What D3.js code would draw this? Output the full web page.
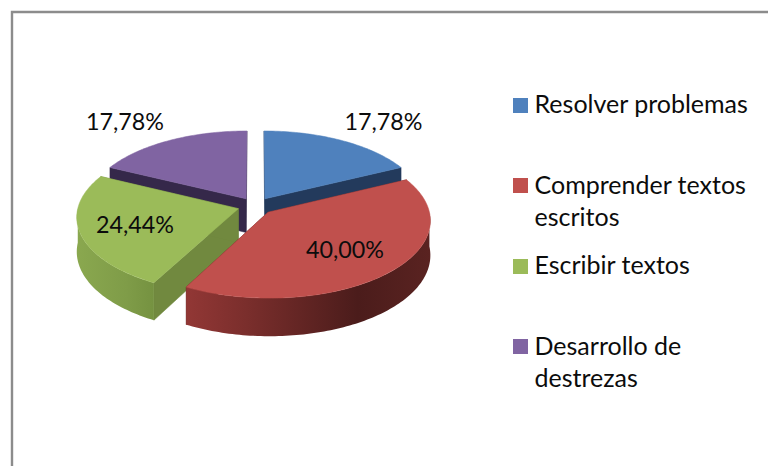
<!DOCTYPE html>
<html><head><meta charset="utf-8">
<script src="https://cdn.jsdelivr.net/npm/d3@7"></script>
<style>html,body{margin:0;padding:0;background:#fff;overflow:hidden}svg{display:block}text{font-family:Lato,"Open Sans",sans-serif;fill:#0c0c0c}</style>
</head><body><svg id="c" width="768" height="466"></svg>
<script>
const categories = ["Resolver problemas", "Comprender textos escritos", "Escribir textos", "Desarrollo de destrezas"];
const legendLines = [["Resolver problemas"], ["Comprender textos", "escritos"], ["Escribir textos"], ["Desarrollo de", "destrezas"]];
const values = [17.78, 40.00, 24.44, 17.78];
const topColors = ["#4F81BD", "#C0504D", "#9BBB59", "#8064A2"];
const wallColors = ["#233A5C", "#5c2322", "#71893F", "#35284A"];

// layout
const W = 768, H = 466;
const cx = 255.5, cy = 206, R = 160, explode = 18, K = 76, C = 0.1, depth = 34;
const labelCentres = [[383.5, 130], [345, 258], [135, 233], [125, 130]];
const legendSwatchY = [98, 178, 259, 339];
const legendBase = [113, 194, 274, 355];
const legendLineH = 32;
const drawOrder = [3, 0, 2, 1];

const svg = d3.select("#c");
svg.append("rect").attr("width", W).attr("height", H).attr("fill", "#fff");
svg.append("path").attr("d", `M12,${H}V12H${W}`).attr("fill", "none").attr("stroke", "#8c8c8c").attr("stroke-width", 2.4);

const arcs = d3.pie().sort(null)(values);
const line = d3.line();

// Perspective projection of the tilted pie plane
function project(X, Y, drop) {
  const f = 1 / (1 + C * Y);
  return [cx + X * R * f, cy - Y * K * f + drop * f];
}
function rim(a, off, drop) {
  return project(off[0] + Math.sin(a), off[1] + Math.cos(a), drop);
}
function arcPts(a0, a1, off, drop) {
  const n = Math.max(2, Math.ceil((a1 - a0) / 0.02));
  return d3.range(n + 1).map(i => rim(a0 + (a1 - a0) * i / n, off, drop));
}

const defs = svg.append("defs");
function grad(id, x1, x2, stops) {
  const g = defs.append("linearGradient").attr("id", id).attr("gradientUnits", "userSpaceOnUse")
    .attr("x1", x1).attr("x2", x2).attr("y1", 0).attr("y2", 0);
  stops.forEach(s => g.append("stop").attr("offset", s[0]).attr("stop-color", s[1]));
  return `url(#${id})`;
}
const redSide = grad("gr", 186, 431, [[0, "#923735"], [0.25, "#7a2e2c"], [0.7, "#4b1c1b"], [1, "#5a2321"]]);
const greenSide = grad("gg", 76, 160, [[0, "#8aa84f"], [0.6, "#7f9c48"], [1, "#73903f"]]);
const sideFill = [wallColors[0], redSide, greenSide, wallColors[3]];

drawOrder.forEach(i => {
  const d = arcs[i], mid = (d.startAngle + d.endAngle) / 2;
  const off = [Math.sin(mid) * explode / R, Math.cos(mid) * explode / R];
  const g = svg.append("g");
  const apex = project(off[0], off[1], 0), apexB = project(off[0], off[1], depth);

  // radial cut walls
  [d.startAngle, d.endAngle].forEach(a => {
    g.append("path").attr("fill", wallColors[i]).attr("stroke", wallColors[i]).attr("stroke-width", 0.5)
      .attr("d", line([apex, rim(a, off, 0), rim(a, off, depth), apexB]) + "Z");
  });
  // outer curved wall (front half only)
  const a0 = Math.max(d.startAngle, Math.PI / 2), a1 = Math.min(d.endAngle, Math.PI * 3 / 2);
  if (a1 > a0) {
    g.append("path").attr("fill", sideFill[i])
      .attr("d", line(arcPts(a0, a1, off, 0).concat(arcPts(a0, a1, off, depth).reverse())) + "Z");
  }
  // top face
  g.append("path").attr("fill", topColors[i]).attr("stroke", topColors[i]).attr("stroke-width", 0.5)
    .attr("d", line([apex].concat(arcPts(d.startAngle, d.endAngle, off, 0))) + "Z");
});

// data labels
const fmt = v => v.toFixed(2).replace(".", ",") + "%";
svg.append("g").selectAll("text").data(values).join("text")
  .attr("x", (v, i) => labelCentres[i][0]).attr("y", (v, i) => labelCentres[i][1])
  .attr("text-anchor", "middle").attr("font-size", 23.3).text(fmt);

// legend
const lg = svg.append("g").selectAll("g").data(categories).join("g");
lg.append("rect").attr("x", 513).attr("y", (c, i) => legendSwatchY[i]).attr("width", 15).attr("height", 15)
  .attr("fill", (c, i) => topColors[i]);
lg.each(function (c, i) {
  d3.select(this).selectAll("text").data(legendLines[i]).join("text")
    .attr("x", 534.5).attr("y", (t, j) => legendBase[i] + j * legendLineH)
    .attr("font-size", 25).text(t => t);
});
</script></body></html>
